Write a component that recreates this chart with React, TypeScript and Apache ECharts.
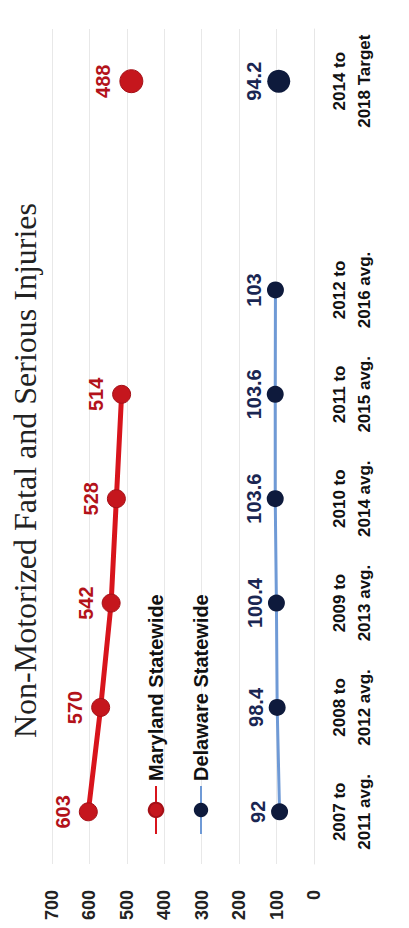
import React, { useEffect, useRef } from "react";
import * as echarts from "echarts";

const categories = [
  "2007 to\n2011 avg.",
  "2008 to\n2012 avg.",
  "2009 to\n2013 avg.",
  "2010 to\n2014 avg.",
  "2011 to\n2015 avg.",
  "2012 to\n2016 avg.",
  "",
  "2014 to\n2018 Target",
];
const marylandValues: (number | null)[] = [603, 570, 542, 528, 514, null, null, 488];
const delawareValues: (number | null)[] = [92, 98.4, 100.4, 103.6, 103.6, 103, null, 94.2];
const targetIndex = 7;
const valueTicks = { min: 0, max: 700, interval: 100 };

const SANS = "'Liberation Sans', Arial, sans-serif";

export default function App() {
  const ref = useRef<HTMLDivElement>(null);
  useEffect(() => {
    if (!ref.current) return;
    const chart = echarts.init(ref.current, undefined, { renderer: "svg" });
    const toData = (vals: (number | null)[], big: number) =>
      vals.map((v, i) => (i === targetIndex && v != null ? { value: v, symbolSize: big } : v));
    chart.setOption({
      animation: false,
      backgroundColor: "#ffffff",
      title: {
        text: "Non-Motorized Fatal and Serious Injuries",
        left: 185,
        top: 4,
        textStyle: {
          fontFamily: "'Liberation Serif', 'Times New Roman', serif",
          fontSize: 32,
          fontWeight: "normal",
          color: "#222",
        },
      },
      legend: {
        orient: "vertical",
        left: 88,
        top: 141,
        itemWidth: 48,
        itemHeight: 18,
        itemGap: 25,
        textStyle: { fontFamily: SANS, fontSize: 20, fontWeight: "bold", color: "#111" },
        data: ["Maryland Statewide", "Delaware Statewide"],
      },
      grid: { left: 64, right: 29, top: 52, bottom: 95 },
      xAxis: {
        type: "category",
        data: categories,
        boundaryGap: true,
        axisLine: { show: true, lineStyle: { color: "#e6e6e6" } },
        axisTick: { show: false },
        splitLine: { show: false },
        axisLabel: {
          interval: 0,
          margin: 13,
          fontFamily: SANS,
          fontSize: 17,
          fontWeight: "bold",
          lineHeight: 25,
          color: "#111",
        },
      },
      yAxis: {
        type: "value",
        min: valueTicks.min,
        max: valueTicks.max,
        interval: valueTicks.interval,
        axisLine: { show: false },
        axisTick: { show: false },
        splitLine: { show: true, lineStyle: { color: "#e8e8e8", width: 1 } },
        axisLabel: {
          margin: 26,
          fontFamily: SANS,
          fontSize: 18,
          fontWeight: "bold",
          color: "#222",
        },
      },
      series: [
        {
          name: "Maryland Statewide",
          type: "line",
          data: toData(marylandValues, 23),
          connectNulls: false,
          symbol: "circle",
          symbolSize: 18,
          showAllSymbol: true,
          lineStyle: { color: "#d8141c", width: 5 },
          itemStyle: { color: "#c5161d", borderColor: "#a51017", borderWidth: 1 },
          label: {
            show: true,
            position: "top",
            distance: 6,
            fontFamily: SANS,
            fontSize: 20,
            fontWeight: "bold",
            color: "#b3121a",
          },
          z: 3,
        },
        {
          name: "Delaware Statewide",
          type: "line",
          data: toData(delawareValues, 23),
          connectNulls: false,
          symbol: "circle",
          symbolSize: 17,
          showAllSymbol: true,
          lineStyle: { color: "#6f9ad6", width: 3 },
          itemStyle: { color: "#0e1a3c" },
          label: {
            show: true,
            position: "top",
            distance: 3,
            fontFamily: SANS,
            fontSize: 20,
            fontWeight: "bold",
            color: "#1a2652",
          },
          z: 3,
        },
      ],
    });
    return () => chart.dispose();
  }, []);

  return (
    <div
      style={{
        position: "fixed",
        left: 0,
        top: 0,
        width: 409,
        height: 928,
        overflow: "hidden",
        background: "#fff",
      }}
    >
      <div
        ref={ref}
        style={{
          position: "absolute",
          left: 0,
          top: 0,
          width: 928,
          height: 409,
          transformOrigin: "0 0",
          transform: "translateY(928px) rotate(-90deg)",
        }}
      />
    </div>
  );
}
